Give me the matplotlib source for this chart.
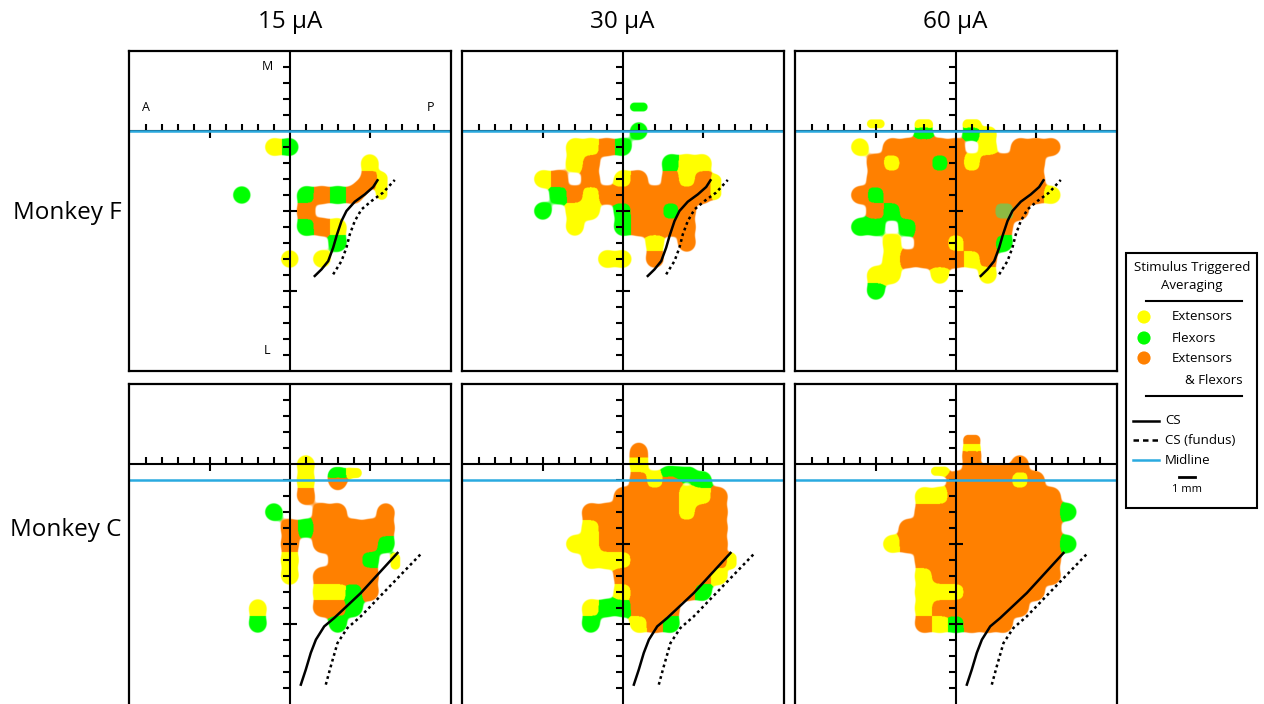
import matplotlib
matplotlib.use("Agg")
import numpy as np
import matplotlib.pyplot as plt
from matplotlib.patches import Rectangle

plt.rcParams['font.family'] = ['Open Sans', 'DejaVu Sans']

# ---------------- data ----------------
currents = ["15 μA", "30 μA", "60 μA"]
monkeys = ["Monkey F", "Monkey C"]
x_cols = list(range(-7, 8))          # mm, anterior(-) .. posterior(+)
y_rows = list(range(2, -12, -1))     # mm, medial(+) .. lateral(-)

# site maps: Y = extensors, G = flexors, O = extensors & flexors, g = mixed (olive)
F15 = ["...............",
       "...............",
       "...............",
       "......YG.......",
       "............Y..",
       "............O..",
       "....G...GOGO...",
       "........O......",
       "........GOY....",
       "..........G....",
       ".......Y.Y.....",
       "...............",
       "...............",
       "..............."]
F15_extra = [('Y', 5.75, -3.45, 0.7, 1.7), ('O', 4.5, -3.55, 0.8, 0.8)]

F30 = ["...............",
       "...............",
       "........G......",
       "....YYOG.......",
       "....YO....GYY..",
       "..YO.O.YO.OYO..",
       "...GOYOOOOOOO..",
       "..G.YY.GOOGO...",
       "....Y..GOOOO...",
       ".........Y.O...",
       "......YY.O.....",
       "...............",
       "...............",
       "..............."]
F30_extra = [('G', 1, 1.5, 1.1, 0.55), ('Y', 5.8, -3.5, 0.7, 1.5)]

F60 = ["...............",
       "...............",
       "...............",
       ".Y.OOOOO.Y.OOO.",
       "..OYOOGOYOOOO..",
       "..OOOOOOOOOOO..",
       ".OGOOOOOOOOOOY.",
       "..OGOOOOOO.O...",
       ".GG.GOOOOOO....",
       "...Y.OOYOOG....",
       "...YOOOOYO.....",
       "..YY..Y..Y.....",
       "..G............",
       "..............."]
F60_extra = [('Y', -5, 0.45, 1.1, 0.55), ('Y', -2, 0.45, 1.1, 0.55), ('Y', 1, 0.45, 1.1, 0.55),
             ('G', -2, -0.15, 1.1, 0.85), ('G', 1, -0.15, 1.1, 0.85), ('Y', 2, -0.15, 1.05, 0.85),
             ('g', 3.05, -5.0, 1.4, 1.05)]

C15 = ["...............",
       "...............",
       "........Y......",
       "........Y......",
       "........O......",
       "......G..OO..O.",
       ".......OGOOOOO.",
       ".......O.OOOOG.",
       ".......Y..OOG..",
       ".......Y.OOOO..",
       ".........YYGO..",
       ".....Y...OOG...",
       ".....G....G....",
       "..............."]
C15_extra = [('G', 3, -0.65, 1.05, 0.85), ('O', 3, -1.1, 1.05, 1.05),
             ('Y', 4, -0.56, 1.0, 0.62), ('Y', 6.6, -6.1, 0.6, 1.0)]

C30 = ["...............",
       "...............",
       "........Y......",
       "........OYO.G..",
       ".......OOOOYYO.",
       ".....OOOOOOYOO.",
       ".....YOOOOOOOO.",
       "....YYOOOOOOOO.",
       ".....YYYOOOOOO.",
       ".......OOOOOOY.",
       ".......YOOOOG..",
       ".....YGGOOO....",
       ".....G..YOG....",
       "..............."]
C30_extra = [('O', 1, 0.8, 1.05, 1.05), ('G', 3.5, -0.6, 2.1, 0.85), ('Y', 6.8, -6.05, 0.6, 0.95)]

C60 = ["...............",
       "...............",
       "........O..O...",
       ".......OOOOYO..",
       ".....YYOOOOOOO.",
       ".....OOOOOOOOOG",
       "....OOOOOOOOOO.",
       "...YOOOOOOOOOOG",
       ".....OOOOOOOOO.",
       ".....YOOOOOOOO.",
       ".....YYYOOOOO..",
       ".....YOOOOOO...",
       ".....OYGOOO....",
       "..............."]
C60_extra = [('Y', 1, 1.0, 1.05, 0.6), ('O', 1, 1.52, 1.05, 0.6), ('O', 1, 0.55, 1.05, 0.6),
             ('O', 2.5, -0.35, 2.2, 0.55), ('Y', -1, -0.45, 1.1, 0.56)]

grids = [[F15, F30, F60], [C15, C30, C60]]
extras = [[F15_extra, F30_extra, F60_extra], [C15_extra, C30_extra, C60_extra]]

# central sulcus traces (mm)
csF_x = [1.56, 1.98, 2.40, 2.71, 2.92, 3.23, 3.54, 4.06, 4.69, 5.21, 5.48]
csF_y = [-9.06, -8.65, -8.13, -7.29, -6.56, -5.63, -5.0, -4.42, -3.96, -3.5, -3.08]
fuF_x = [2.71, 3.23, 3.54, 3.75, 4.06, 4.48, 5.1, 5.83, 6.56]
fuF_y = [-8.96, -8.13, -7.29, -6.46, -5.63, -4.9, -4.38, -3.85, -3.06]
csC_x = [0.69, 1.0, 1.31, 1.63, 2.15, 2.77, 4.44, 6.73]
csC_y = [-13.79, -12.85, -11.81, -10.98, -10.15, -9.63, -8.06, -5.56]
fuC_x = [2.25, 2.56, 2.98, 3.6, 4.44, 8.29]
fuC_y = [-13.79, -12.65, -11.19, -10.25, -9.52, -5.52]
cs_lines = [(csF_x, csF_y, fuF_x, fuF_y), (csC_x, csC_y, fuC_x, fuC_y)]
midline_y = [0, -1]

tick_x = [t for t in range(-9, 10) if t != 0]
major_x = [-5, 5]
tick_y = [t for t in range(4, -15, -1) if t != 0]
major_y = [-5, -10]

# ---------------- style ----------------
ORDER = ['Y', 'G', 'O', 'g']
COLORS = {'Y': '#FFFF00', 'G': '#00FF00', 'O': '#FF8000', 'g': '#8DBA43'}
BLUE = '#2AAAE0'
R = 0.54            # radius of one site (mm)
SIG = 0.4           # smoothing kernel
T = np.exp(-R ** 2 / (2 * SIG ** 2))
XLIM = (-10.05, 10.075)
YLIM = (-15.0, 5.0)
STEP = 1 / 32.0
xs = np.arange(XLIM[0], XLIM[1], STEP) + STEP / 2
ys = np.arange(YLIM[0], YLIM[1], STEP) + STEP / 2
XX, YY = np.meshgrid(xs, ys)


def site_field(grid, extra):
    fields = {c: np.zeros_like(XX) for c in ORDER}
    items = []
    for j, row in enumerate(grid):
        for i, ch in enumerate(row):
            if ch != '.':
                x, y = x_cols[i], y_rows[j]
                items.append((ch, x, y, x, y, SIG))
    for ch, x, y, w, h in extra:
        r = min(w, h) / 2
        L = (max(w, h) - 2 * r) / 2
        sg = r * SIG / R
        if w >= h:
            items.append((ch, x - L, y, x + L, y, sg))
        else:
            items.append((ch, x, y - L, x, y + L, sg))
    for ch, x0, y0, x1, y1, sg in items:
        i0 = max(0, np.searchsorted(xs, min(x0, x1) - 2.0))
        i1 = np.searchsorted(xs, max(x0, x1) + 2.0)
        j0 = max(0, np.searchsorted(ys, min(y0, y1) - 2.0))
        j1 = np.searchsorted(ys, max(y0, y1) + 2.0)
        px = XX[j0:j1, i0:i1]
        py = YY[j0:j1, i0:i1]
        dx, dy = x1 - x0, y1 - y0
        ll = dx * dx + dy * dy
        if ll > 0:
            t = np.clip(((px - x0) * dx + (py - y0) * dy) / ll, 0, 1)
        else:
            t = 0.0
        qx = x0 + t * dx
        qy = y0 + t * dy
        d2 = (px - qx) ** 2 + (py - qy) ** 2
        fields[ch][j0:j1, i0:i1] += np.exp(-d2 / (2 * sg ** 2))
    stack = np.stack([fields[c] for c in ORDER])
    total = stack.sum(axis=0)
    idx = stack.argmax(axis=0)
    pal = np.array([matplotlib.colors.to_rgb(COLORS[c]) for c in ORDER])
    img = np.zeros(XX.shape + (4,))
    img[..., :3] = pal[idx]
    grad = R / SIG ** 2 * T / 16.0
    img[..., 3] = np.clip((total - T) / grad + 0.5, 0, 1)
    return img


fig = plt.figure(figsize=(12.64, 7.04), dpi=100)
FW, FH = 1264, 704
lefts = [129, 462, 795]
tops = [51, 384]
PW, PH = 322, 320

for r in range(2):
    for c in range(3):
        ax = fig.add_axes([lefts[c] / FW, 1 - (tops[r] + PH) / FH, PW / FW, PH / FH])
        img = site_field(grids[r][c], extras[r][c])
        ax.imshow(img, origin='lower', extent=(xs[0] - STEP / 2, xs[-1] + STEP / 2,
                                              ys[0] - STEP / 2, ys[-1] + STEP / 2),
                  aspect='auto', interpolation='antialiased', zorder=2)
        ax.set_xlim(*XLIM)
        ax.set_ylim(*YLIM)
        ax.set_xticks([])
        ax.set_yticks([])
        for s in ax.spines.values():
            s.set_linewidth(1.6)
            s.set_color('black')
            s.set_zorder(10)
        if r == 1:
            ax.spines['bottom'].set_visible(False)
        ax.axhline(0, color='black', lw=1.5, zorder=6)
        ax.axvline(0, color='black', lw=1.5, zorder=6)
        for t in tick_x:
            lo = -0.45 if t in major_x else 0
            ax.plot([t, t], [lo, 0.45], color='black', lw=1.5, zorder=6, solid_capstyle='butt')
        for t in tick_y:
            hi = 0.45 if t in major_y else 0
            ax.plot([-0.45, hi], [t, t], color='black', lw=1.5, zorder=6, solid_capstyle='butt')
        ax.axhline(midline_y[r], color=BLUE, lw=1.8, zorder=7)
        sx, sy, fx, fy = cs_lines[r]
        ax.plot(sx, sy, color='black', lw=1.8, zorder=8)
        ax.plot(fx, fy, color='black', lw=1.8, ls=(0, (1.1, 1.3)), zorder=8)
        if r == 0 and c == 0:
            ax.text(-9.0, 1.45, 'A', ha='center', va='center', fontsize=9, zorder=9)
            ax.text(8.8, 1.45, 'P', ha='center', va='center', fontsize=9, zorder=9)
            ax.text(-1.4, 4.0, 'M', ha='center', va='center', fontsize=9, zorder=9)
            ax.text(-1.4, -13.7, 'L', ha='center', va='center', fontsize=9, zorder=9)

# overlay in pixel coordinates for titles / labels / key
lax = fig.add_axes([0, 0, 1, 1], zorder=10)
lax.set_xlim(0, FW)
lax.set_ylim(FH, 0)
lax.axis('off')
lax.patch.set_alpha(0)

centers = [289.7, 622.7, 955.7]
for cx, t in zip(centers, currents):
    lax.text(cx, 22, t, ha='center', va='center', fontsize=17.5)
lax.text(67, 213, monkeys[0], ha='center', va='center', fontsize=17.5)
lax.text(66, 530, monkeys[1], ha='center', va='center', fontsize=17.5)

# key
lax.add_patch(Rectangle((1126, 253), 131, 255, fc='white', ec='black', lw=1.5))
lax.text(1192, 268, 'Stimulus Triggered', ha='center', va='center', fontsize=9.5)
lax.text(1192, 286, 'Averaging', ha='center', va='center', fontsize=9.5)
lax.plot([1146, 1242], [301, 301], color='black', lw=1.5)
key_items = [('Y', 317, 'Extensors'), ('G', 338, 'Flexors'), ('O', 358, 'Extensors')]
for ch, yy, lab in key_items:
    lax.scatter([1144], [yy], s=90, color=COLORS[ch], edgecolors='none')
    lax.text(1172, yy, lab, ha='left', va='center', fontsize=9.5)
lax.text(1243, 380, '& Flexors', ha='right', va='center', fontsize=9.5)
lax.plot([1146, 1242], [396, 396], color='black', lw=1.5)
lax.plot([1133, 1159], [421, 421], color='black', lw=1.8)
lax.text(1165, 421, 'CS', ha='left', va='center', fontsize=9.5)
lax.plot([1133, 1159], [440, 440], color='black', lw=1.8, ls=(0, (2.2, 1.6)))
lax.text(1165, 440, 'CS (fundus)', ha='left', va='center', fontsize=9.5)
lax.plot([1133, 1159], [460, 460], color=BLUE, lw=1.8)
lax.text(1165, 460, 'Midline', ha='left', va='center', fontsize=9.5)
lax.plot([1179, 1195], [477, 477], color='black', lw=2)
lax.text(1187, 490, '1 mm', ha='center', va='center', fontsize=8)

fig.savefig('out.png', dpi=100)
